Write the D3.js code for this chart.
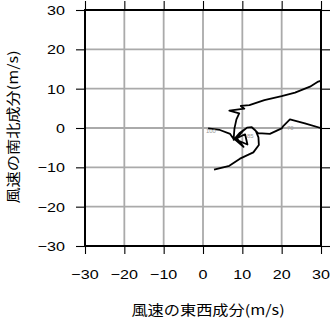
<!DOCTYPE html>
<html>
<head>
<meta charset="utf-8">
<script src="https://cdn.jsdelivr.net/npm/d3@7"></script>
<style>
  body { margin: 0; background: #fff; }
  svg { display: block; }
</style>
</head>
<body>
<svg width="331" height="318"></svg>
<script>
// wind components (m/s), in drawing order
var uWind = [1.3, 4.3, 6.9, 7.7, 11.3, 10.7, 7.8, 9.4, 11.2, 12.4, 14, 17, 20, 20.4, 22.1, 25.9, 30.2, 34, 31.5,
    29.3, 27.2, 23.4, 20, 15.6, 11.8, 9.6, 10.5, 6.7, 9.2, 8.5, 8.0, 7.8, 10.3, 8.6, 10.2, 11.2, 12.4,
    13.4, 14.1, 14.2, 12.8, 9.4, 6.7, 2.8];
var vWind = [-0.1, -0.5, -1.5, -2.7, -4.2, -1.6, -3.0, -1.2, 0.1, 0.2, -1.3, -1.5, -0.1, 0.5, 2.2, 1.2, -0.1, 5, 12.5,
    11.8, 10.5, 9.0, 8.1, 7.1, 5.8, 5.6, 4.9, 4.4, 3.7, 2.2, -0.1, -2.6, -4.8, -2.6, -0.7, 0.1, 0.2,
    -0.7, -2.4, -4.3, -6.2, -7.8, -9.6, -10.6];

// level labels
var levelNames = ["100", "85", "70"];
var levelU = [2.0, 12.0, 22.2];
var levelV = [-0.8, -2.2, -0.1];

var tickValues = [-30, -20, -10, 0, 10, 20, 30];
var xTitle = "風速の東西成分(m/s)";
var yTitle = "風速の南北成分(m/s)";

var svg = d3.select('svg');
var stretch = 1.24; // text in the original is a little wide

var margin = { left: 85, right: 10, top: 10, bottom: 72 };
var x = d3.scaleLinear().domain([-30, 30]).range([margin.left, 321]);
var y = d3.scaleLinear().domain([-30, 30]).range([246, margin.top]);

// grid
svg.append('g').selectAll('line.gx')
    .data(tickValues)
    .enter().append('line')
    .attr('x1', d => x(d)).attr('x2', d => x(d))
    .attr('y1', y(30)).attr('y2', y(-30))
    .attr('stroke', '#aaa').attr('stroke-width', 1.8);

svg.append('g').selectAll('line.gy')
    .data(tickValues)
    .enter().append('line')
    .attr('y1', d => y(d)).attr('y2', d => y(d))
    .attr('x1', x(-30)).attr('x2', x(30))
    .attr('stroke', '#aaa').attr('stroke-width', 1.8);

// hodograph line, clipped to the frame
svg.append('clipPath').attr('id', 'clip')
    .append('rect')
    .attr('x', x(-30)).attr('y', y(30))
    .attr('width', x(30) - x(-30)).attr('height', y(-30) - y(30));

var line = d3.line()
    .x((d, i) => x(uWind[i]))
    .y((d, i) => y(vWind[i]));

svg.append('path')
    .datum(uWind)
    .attr('clip-path', 'url(#clip)')
    .attr('d', line)
    .attr('fill', 'none')
    .attr('stroke', '#000')
    .attr('stroke-width', 1.8)
    .attr('stroke-linejoin', 'round');

// level labels
svg.append('g').selectAll('text')
    .data(levelNames)
    .enter().append('text')
    .attr('transform', (d, i) => 'translate(' + [x(levelU[i]), y(levelV[i]) + 1.8] + ') scale(' + stretch + ',1)')
    .attr('text-anchor', 'middle')
    .style('font-family', 'Liberation Sans, Arial, sans-serif')
    .style('font-size', '4.8px')
    .attr('fill', '#999')
    .text(d => d);

// ticks on every side, pointing out
var axisStyle = g => {
    g.select('.domain').remove();
    g.selectAll('.tick line').attr('stroke', '#000').attr('stroke-width', 1.1);
    g.selectAll('.tick text').remove();
};
svg.append('g').attr('transform', 'translate(' + [x(-30), 0] + ')')
    .call(d3.axisLeft(y).tickValues(tickValues).tickSize(9)).call(axisStyle);
svg.append('g').attr('transform', 'translate(' + [x(30), 0] + ')')
    .call(d3.axisRight(y).tickValues(tickValues).tickSize(9)).call(axisStyle);
svg.append('g').attr('transform', 'translate(' + [0, y(-30)] + ')')
    .call(d3.axisBottom(x).tickValues(tickValues).tickSize(8)).call(axisStyle);
svg.append('g').attr('transform', 'translate(' + [0, y(30)] + ')')
    .call(d3.axisTop(x).tickValues(tickValues).tickSize(9)).call(axisStyle);

// frame
svg.append('rect')
    .attr('x', x(-30)).attr('y', y(30))
    .attr('width', x(30) - x(-30)).attr('height', y(-30) - y(30))
    .attr('fill', 'none').attr('stroke', '#000').attr('stroke-width', 2);

// tick labels
var fmt = d3.format('d');
svg.append('g').selectAll('text')
    .data(tickValues)
    .enter().append('text')
    .attr('transform', d => 'translate(' + [65, y(d) + 5] + ') scale(' + stretch + ',1)')
    .attr('text-anchor', 'end')
    .style('font-family', 'Liberation Sans, Arial, sans-serif')
    .style('font-size', '13px')
    .text(d => fmt(d));

svg.append('g').selectAll('text')
    .data(tickValues)
    .enter().append('text')
    .attr('transform', d => 'translate(' + [x(d), 278.5] + ') scale(' + stretch + ',1)')
    .attr('text-anchor', 'middle')
    .style('font-family', 'Liberation Sans, Arial, sans-serif')
    .style('font-size', '13px')
    .text(d => fmt(d));

// axis titles
svg.append('text')
    .attr('transform', 'translate(' + [208, 315] + ') scale(1.2,1)')
    .attr('text-anchor', 'middle')
    .style('font-family', 'Noto Sans CJK JP, sans-serif')
    .style('font-size', '13.5px')
    .text(xTitle);

svg.append('text')
    .attr('transform', 'translate(' + [18, 127] + ') rotate(-90) scale(1.2,1)')
    .attr('text-anchor', 'middle')
    .style('font-family', 'Noto Sans CJK JP, sans-serif')
    .style('font-size', '13.5px')
    .text(yTitle);
</script>
</body>
</html>
